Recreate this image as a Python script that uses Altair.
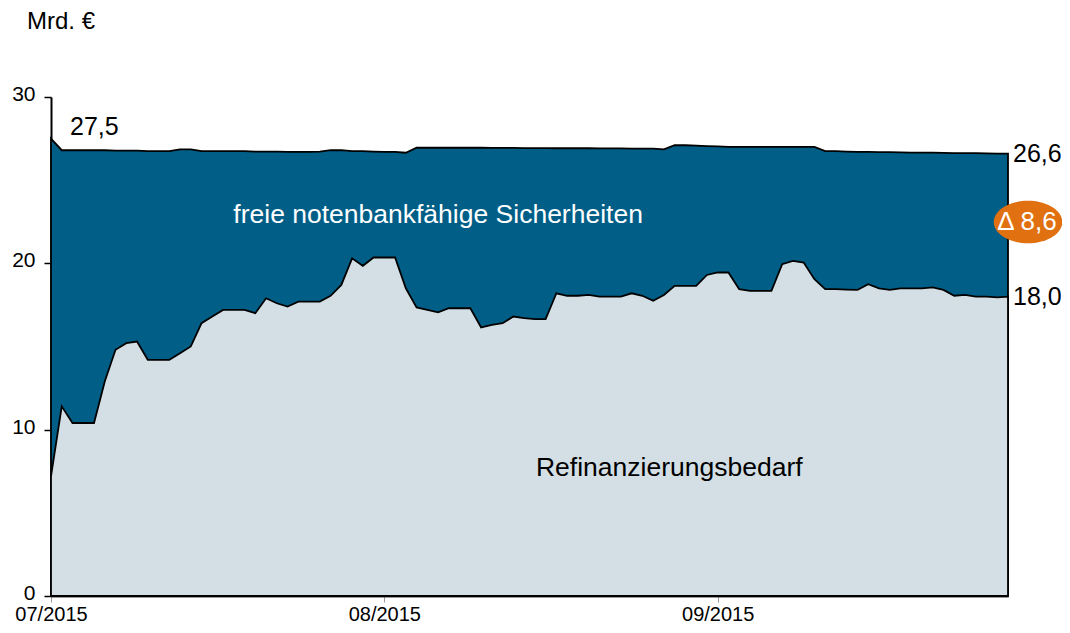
import altair as alt
import pandas as pd

# Daily values (Mrd. €), 1 Jul 2015 .. 28 Sep 2015
start_date = "2015-07-01"
total = [27.5, 26.8, 26.8, 26.8, 26.8, 26.8, 26.78, 26.78, 26.78, 26.75,
         26.75, 26.75, 26.85, 26.85, 26.75, 26.75, 26.75, 26.75, 26.75, 26.72,
         26.72, 26.72, 26.7, 26.7, 26.7, 26.72, 26.8, 26.8, 26.75, 26.75,
         26.72, 26.7, 26.7, 26.65, 26.95, 26.95, 26.95, 26.95, 26.95, 26.95,
         26.95, 26.94, 26.94, 26.94, 26.93, 26.93, 26.93, 26.92, 26.92, 26.92,
         26.92, 26.91, 26.91, 26.91, 26.9, 26.9, 26.9, 26.85, 27.1, 27.1,
         27.08, 27.05, 27.03, 27.0, 27.0, 27.0, 27.0, 27.0, 27.0, 27.0,
         27.0, 27.0, 26.75, 26.75, 26.72, 26.7, 26.7, 26.68, 26.68, 26.67,
         26.66, 26.65, 26.65, 26.64, 26.63, 26.62, 26.62, 26.61, 26.6, 26.6]
refinanzierung = [7.2, 11.4, 10.4, 10.4, 10.4, 12.9, 14.8, 15.2, 15.3, 14.2,
                  14.2, 14.2, 14.6, 15.0, 16.4, 16.8, 17.2, 17.2, 17.2, 17.0,
                  17.9, 17.6, 17.4, 17.7, 17.7, 17.7, 18.05, 18.7, 20.3, 19.85,
                  20.35, 20.35, 20.35, 18.5, 17.35, 17.2, 17.05, 17.3, 17.3, 17.3,
                  16.15, 16.3, 16.4, 16.8, 16.7, 16.65, 16.65, 18.2, 18.05, 18.05,
                  18.1, 18.0, 18.0, 18.0, 18.2, 18.05, 17.75, 18.1, 18.65, 18.65,
                  18.65, 19.3, 19.45, 19.45, 18.45, 18.35, 18.35, 18.35, 19.95, 20.15,
                  20.05, 19.05, 18.45, 18.45, 18.42, 18.4, 18.75, 18.5, 18.4, 18.5,
                  18.5, 18.5, 18.55, 18.4, 18.05, 18.1, 18.0, 18.0, 17.95, 18.0]

month_ticks = ["2015-07-01", "2015-08-01", "2015-09-01"]
y_ticks = [0, 10, 20, 30]

FONT = "Liberation Sans"
DARK = "#005e87"
LIGHT = "#d3dfe5"
ORANGE = "#e07010"

dates = pd.date_range(start_date, periods=len(total), freq="D").strftime("%Y-%m-%d").tolist()
df = pd.DataFrame({"date": dates, "total": total, "refi": refinanzierung})

def dt(s):
    y, m, d = (int(v) for v in s.split("-"))
    return alt.DateTime(year=y, month=m, date=d, utc=True)

xscale = alt.Scale(type="utc", domain=[dt(dates[0]), dt(dates[-1])], nice=False, padding=0)
yscale = alt.Scale(domain=[0, 30], nice=False)

xaxis = alt.Axis(values=[dt(s) for s in month_ticks], format="%m/%Y", title=None,
                 labelFont=FONT, labelFontSize=20, labelColor="black",
                 tickColor="#999999", tickSize=6, tickWidth=1, labelPadding=2,
                 domainColor="#333333", domainWidth=2, grid=False,
                 labelFlush=False, labelOverlap=False)
yaxis = alt.Axis(values=y_ticks, title=None, labelFont=FONT, labelFontSize=21,
                 labelColor="black", tickColor="black", tickSize=7, tickWidth=1.5,
                 labelPadding=9, labelOffset=-2.5, domainColor="black", domainWidth=2,
                 grid=False)

base = alt.Chart(df)

top_area = base.mark_area(color=DARK, stroke="black", strokeWidth=1.8, opacity=1).encode(
    x=alt.X("date:T", scale=xscale, axis=xaxis),
    y=alt.Y("total:Q", scale=yscale, axis=yaxis),
)
low_area = base.mark_area(color=LIGHT, stroke="black", strokeWidth=1.8, opacity=1).encode(
    x=alt.X("date:T", scale=xscale),
    y=alt.Y("refi:Q", scale=yscale),
)

first = df.iloc[[0]].assign(lbl="27,5")
last_total = df.iloc[[-1]].assign(lbl="26,6")
last_refi = df.iloc[[-1]].assign(lbl="18,0")
delta_val = total[-1] - refinanzierung[-1]
delta = pd.DataFrame({"date": [dates[-1]], "mid": [(total[-1] + refinanzierung[-1]) / 2],
                      "lbl": ["\u0394 " + f"{delta_val:.1f}".replace(".", ",")]})

lbl_first = alt.Chart(first).mark_text(font=FONT, fontSize=25, align="left", baseline="middle",
                                       dx=19, dy=-12, color="black").encode(
    x=alt.X("date:T", scale=xscale), y=alt.Y("total:Q", scale=yscale), text="lbl:N")
lbl_total = alt.Chart(last_total).mark_text(font=FONT, fontSize=25, align="left", baseline="middle",
                                            dx=5, dy=0, color="black").encode(
    x=alt.X("date:T", scale=xscale), y=alt.Y("total:Q", scale=yscale), text="lbl:N")
lbl_refi = alt.Chart(last_refi).mark_text(font=FONT, fontSize=25, align="left", baseline="middle",
                                          dx=5, dy=0, color="black").encode(
    x=alt.X("date:T", scale=xscale), y=alt.Y("refi:Q", scale=yscale), text="lbl:N")

ellipse_path = ("M 1 0 C 1 0.34 0.5523 0.62 0 0.62 C -0.5523 0.62 -1 0.34 -1 0 "
                "C -1 -0.34 -0.5523 -0.62 0 -0.62 C 0.5523 -0.62 1 -0.34 1 0 Z")
bubble = alt.Chart(delta).mark_point(shape=ellipse_path, filled=True, color=ORANGE, opacity=1,
                                     size=4700, xOffset=20, yOffset=-3).encode(
    x=alt.X("date:T", scale=xscale), y=alt.Y("mid:Q", scale=yscale))
bubble_txt = alt.Chart(delta).mark_text(font=FONT, fontSize=26, align="center", baseline="middle",
                                        dx=19, dy=-3, color="white").encode(
    x=alt.X("date:T", scale=xscale), y=alt.Y("mid:Q", scale=yscale), text="lbl:N")

area_labels = pd.DataFrame({
    "date": ["2015-08-06T00:00:00Z", "2015-08-27T12:00:00Z"],
    "val": [22.9, 7.7],
    "lbl": ["freie notenbankfähige Sicherheiten", "Refinanzierungsbedarf"],
    "col": ["white", "black"],
})
area_txt = alt.Chart(area_labels).mark_text(font=FONT, fontSize=26.5, align="center",
                                            baseline="middle").encode(
    x=alt.X("date:T", scale=xscale), y=alt.Y("val:Q", scale=yscale), text="lbl:N",
    color=alt.Color("col:N", scale=None))

unit = alt.Chart(pd.DataFrame({"lbl": ["Mrd. €"]})).mark_text(
    font=FONT, fontSize=24, align="left", baseline="middle", color="black").encode(
    x=alt.value(-24), y=alt.value(-75), text="lbl:N")

chart = alt.layer(top_area, low_area, lbl_first, lbl_total, lbl_refi, bubble, bubble_txt,
                  area_txt, unit).properties(
    width=957, height=499,
    background="white",
    autosize=alt.AutoSizeParams(type="none"),
    padding={"left": 43, "top": 89, "right": 54, "bottom": 28},
).configure_view(strokeWidth=0, stroke="transparent")

chart.save("out.html", embed_options={"renderer": "svg", "actions": False})
